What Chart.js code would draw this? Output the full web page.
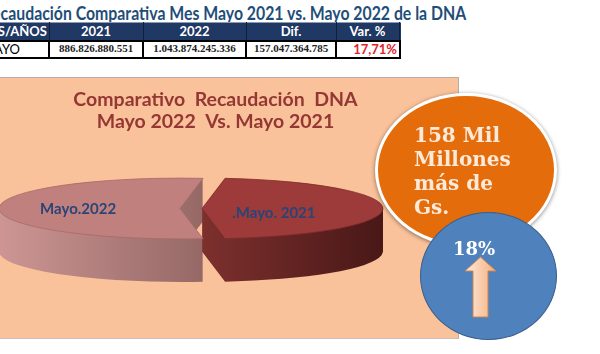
<!DOCTYPE html>
<html><head><meta charset="utf-8">
<script src="https://cdn.jsdelivr.net/npm/chart.js@4.4.1/dist/chart.umd.min.js"></script>
<style>
html,body{margin:0;padding:0;background:#fff;}
body{width:600px;height:354px;overflow:hidden;position:relative;font-family:Lato,sans-serif;}
.abs{position:absolute;}
#hdr{position:absolute;right:134px;white-space:nowrap;color:#1F4E79;font-weight:bold;font-family:Lato,sans-serif;transform-origin:100% 50%;}
#panel{position:absolute;left:0;top:77px;width:458px;height:260px;background:#F9C29A;border-top:1px solid #B8ADA5;border-right:1px solid #B8ADA5;border-bottom:1px solid #C8C0BA;}
#panel canvas{display:block;}
#orange{position:absolute;left:375px;top:93px;width:182px;height:154px;box-sizing:border-box;border-radius:50%;background:#E46C0A;border:3px solid #fff;box-shadow:0 1px 4px rgba(0,0,0,.45);}
#blue{position:absolute;left:420px;top:212px;width:137px;height:128px;box-sizing:border-box;border-radius:50%;background:#4F81BD;border:1.5px solid #3A5F8B;}
.otxt{position:absolute;left:414px;white-space:nowrap;color:#FDEADA;font-family:"DejaVu Serif",serif;font-weight:bold;font-size:20px;line-height:24px;}
#pct{position:absolute;left:434px;width:80px;text-align:center;top:239px;color:#fff;font-family:"DejaVu Serif",serif;font-weight:bold;font-size:18px;line-height:20px;}
#arrow{position:absolute;left:0;top:0;}
</style></head><body>
<div id="hdr"></div>
<div id="table"></div>
<div id="panel"><canvas id="pie" width="458" height="260"></canvas></div>
<div id="orange"></div>
<div id="otext"></div>
<div id="blue"></div>
<div id="pct"></div>
<svg id="arrow" width="600" height="354">
  <defs><linearGradient id="ag" x1="0" y1="0" x2="1" y2="0">
    <stop offset="0" stop-color="#FFEBDA"/><stop offset="1" stop-color="#F3AF7E"/></linearGradient></defs>
  <polygon points="480.5,257 465,271 473,271 473,317 488,317 488,271 496,271" fill="url(#ag)" stroke="#C98657" stroke-width="1"/>
</svg>
<script>
// ---- data ----
const pieLabels = ['Mayo.2022', '.Mayo. 2021'];
const pieValues = [1043874245336, 886826880551];
const tableHeaders = ['MES/AÑOS', '2021', '2022', 'Dif.', 'Var. %'];
const tableRow = ['MAYO', '886.826.880.551', '1.043.874.245.336', '157.047.364.785', '17,71%'];
const headerTitle = 'Recaudación Comparativa Mes Mayo 2021 vs. Mayo 2022 de la DNA';
const chartTitle = ['Comparativo  Recaudación  DNA', 'Mayo 2022  Vs. Mayo 2021'];
const bubbleText = ['158 Mil', 'Millones', 'más de', 'Gs.'];
const bubblePct = '18%';

// ---- header title (compress visible part to its width) ----
const mc = document.createElement('canvas').getContext('2d');
const hdr = document.getElementById('hdr');
const hs = 18;
mc.font = 'bold ' + hs + 'px Lato';
const hw = mc.measureText(headerTitle.slice(2)).width;
hdr.style.fontSize = hs + 'px';
hdr.style.lineHeight = hs + 'px';
hdr.style.top = (13 - hs / 2) + 'px';
hdr.style.transform = 'scaleX(' + (466 / hw) + ')';
hdr.textContent = headerTitle;

// ---- table ----
const edges = [-24, 49, 143, 246, 336, 400];
const tbl = document.getElementById('table');
function cell(x0, x1, y, h, css, text) {
  const d = document.createElement('div');
  d.className = 'abs';
  d.style.cssText += `left:${x0}px;top:${y}px;width:${x1 - x0}px;height:${h}px;box-sizing:border-box;white-space:nowrap;overflow:hidden;` + css;
  d.textContent = text;
  tbl.appendChild(d);
}
cell(edges[0], edges[5] + 1, 22, 19, 'background:#1F3864;border-top:1px solid #8E9AB0;', '');
tableHeaders.forEach((t, i) => {
  cell(edges[i], edges[i + 1] + (i < 4 ? 1 : 0), 22, 19,
    'color:#fff;font:bold 13px Lato,sans-serif;line-height:18px;text-align:center;border-right:1px solid #10203C;', t);
});
tableRow.forEach((t, i) => {
  let css = 'background:#fff;border:2px solid #000;line-height:14px;';
  if (i === 0) css += 'font:13px Lato,sans-serif;color:#000;text-align:left;padding-left:4px;line-height:15px;';
  else if (i === 4) css += 'font:bold 13px Lato,sans-serif;color:#E0242E;text-align:right;padding-right:2px;line-height:15px;';
  else css += 'font:bold 11px "Liberation Serif",serif;color:#222;text-align:center;';
  cell(edges[i] - (i ? 1 : 0), edges[i + 1] + 1, 40, 19, css, t);
});

// ---- bubbles ----
const ot = document.getElementById('otext');
bubbleText.forEach((t, i) => {
  const d = document.createElement('div');
  d.className = 'otxt';
  d.style.top = (123 + i * 24) + 'px';
  d.textContent = t;
  ot.appendChild(d);
});
document.getElementById('pct').textContent = bubblePct;

// ---- 3D pie plugin ----
const pie3d = {
  id: 'pie3d',
  beforeDatasetsDraw(chart, args, o) {
    const ctx = chart.ctx;
    const meta = chart.getDatasetMeta(0);
    const ds = chart.data.datasets[0];
    const sl = meta.data.map((el, i) => {
      const p = el.getProps(['x', 'y', 'startAngle', 'endAngle', 'outerRadius'], true);
      const mid = (p.startAngle + p.endAngle) / 2;
      const off = el.options.offset || 0;
      const rx = p.outerRadius;
      return { i, mid, a0: p.startAngle, a1: p.endAngle, rx, ry: rx * o.tilt,
        cx: p.x + o.shiftX + Math.cos(mid) * off,
        cy: p.y + Math.sin(mid) * off * o.tilt };
    });
    const sector = (q, yo) => {
      ctx.save();
      ctx.translate(q.cx, q.cy + yo);
      ctx.scale(1, o.tilt);
      ctx.beginPath();
      ctx.moveTo(0, 0);
      ctx.arc(0, 0, q.rx, q.a0, q.a1);
      ctx.closePath();
      ctx.restore();
    };
    ctx.save();
    sl.forEach(q => {
      let mn = 0, mx = 0;
      for (let t = 0; t <= 90; t++) {
        const a = q.a0 + (q.a1 - q.a0) * t / 90;
        const x = Math.cos(a) * q.rx;
        mn = Math.min(mn, x); mx = Math.max(mx, x);
      }
      const g = ctx.createLinearGradient(q.cx + mn, 0, q.cx + mx, 0);
      g.addColorStop(0, o.sideColors[q.i][0]);
      g.addColorStop(1, o.sideColors[q.i][1]);
      ctx.fillStyle = g;
      for (let k = o.depth; k >= 1; k--) { sector(q, k); ctx.fill(); }
    });
    sl.forEach(q => {
      sector(q, 0);
      ctx.fillStyle = ds.backgroundColor[q.i];
      ctx.fill();
      ctx.lineWidth = 0.8;
      ctx.strokeStyle = o.edgeColor[q.i];
      ctx.stroke();
    });
    ctx.font = o.labelFont;
    ctx.fillStyle = o.labelColor;
    ctx.textAlign = 'center';
    ctx.textBaseline = 'middle';
    sl.forEach(q => {
      ctx.fillText(chart.data.labels[q.i],
        q.cx + Math.cos(q.mid) * q.rx * o.labelRadius + o.labelShift[0],
        q.cy + Math.sin(q.mid) * q.ry * o.labelRadius + o.labelShift[1] + (q.i ? 4 : 0));
    });
    ctx.restore();
    return false;
  }
};

new Chart(document.getElementById('pie'), {
  type: 'pie',
  data: {
    labels: pieLabels,
    datasets: [{
      data: pieValues,
      backgroundColor: ['#C0807E', '#9C3B39'],
      borderWidth: 0,
      offset: 11,
      radius: 181
    }]
  },
  options: {
    responsive: false,
    animation: false,
    events: [],
    rotation: 270 - 180 * pieValues[0] / (pieValues[0] + pieValues[1]),
    layout: { padding: { left: 0, right: 27, top: 0, bottom: 65 } },
    plugins: {
      legend: { display: false },
      tooltip: { enabled: false },
      title: {
        display: true,
        text: chartTitle,
        color: '#953734',
        font: { family: 'Lato', size: 19.5, weight: 'bold', lineHeight: 22 / 19.5 },
        padding: { top: 11, bottom: 11 }
      },
      pie3d: {
        tilt: 0.168,
        depth: 43,
        shiftX: -24.5,
        sideColors: [['#CD9694', '#956866'], ['#7D302E', '#481817']],
        edgeColor: ['#A86A68', '#7E2C2A'],
        labelFont: 'bold 15px Lato',
        labelColor: '#2A4478',
        labelRadius: 0.48,
        labelShift: [-15, 1]
      }
    }
  },
  plugins: [pie3d]
});
</script>
</body></html>
